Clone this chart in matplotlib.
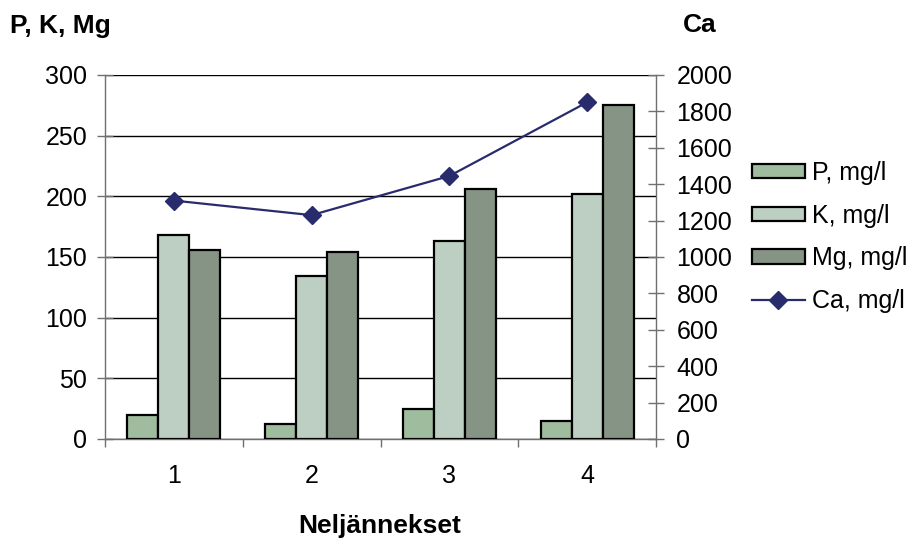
import numpy as np
import matplotlib
matplotlib.use("Agg")
import matplotlib.pyplot as plt

plt.rcParams["font.family"] = ["Liberation Sans", "DejaVu Sans"]

quarters = ["1", "2", "3", "4"]
p_vals = [20, 12, 25, 15]
k_vals = [168, 134, 163, 202]
mg_vals = [156, 154, 206, 275]
ca_vals = [1310, 1230, 1445, 1850]

fig = plt.figure(figsize=(9.18, 5.39), dpi=100)
ax1 = fig.add_axes([105 / 918, 100 / 539, 551 / 918, 364 / 539])

x = np.arange(len(quarters))
w = 0.225
bar_kw = dict(width=w, edgecolor="black", linewidth=1.6, zorder=3)
b1 = ax1.bar(x - w, p_vals, color="#A0BC9E", label="P, mg/l", **bar_kw)
b2 = ax1.bar(x, k_vals, color="#BDCFC3", label="K, mg/l", **bar_kw)
b3 = ax1.bar(x + w, mg_vals, color="#859484", label="Mg, mg/l", **bar_kw)

ax1.set_xlim(-0.5, 3.5)
ax1.set_ylim(0, 300)
ax1.set_yticks(range(0, 301, 50))
ax1.set_xticks(x)
ax1.set_xticklabels(quarters)
ax1.set_xticks(np.arange(-0.5, 3.6, 1), minor=True)
ax1.tick_params(axis="x", which="major", length=0, labelsize=18, pad=18)
ax1.tick_params(axis="x", which="minor", length=6, width=1, color="#707070")
ax1.tick_params(axis="y", direction="inout", length=11.5, width=1, color="#707070",
                labelsize=18, pad=7)
ax1.yaxis.grid(True, color="black", linewidth=1)
ax1.set_axisbelow(True)
for s in ["top", "right"]:
    ax1.spines[s].set_visible(False)
for s in ["left", "bottom"]:
    ax1.spines[s].set_color("#707070")
    ax1.spines[s].set_linewidth(1)

ax2 = ax1.twinx()
ln, = ax2.plot(x, ca_vals, color="#282C6C", linewidth=1.6, marker="D",
               markersize=9, label="Ca, mg/l", zorder=4)
ax2.set_ylim(0, 2000)
ax2.set_yticks(range(0, 2001, 200))
ax2.tick_params(axis="y", direction="inout", length=11.5, width=1, color="#707070",
                labelsize=18, pad=9)
for s in ["top", "left", "bottom"]:
    ax2.spines[s].set_visible(False)
ax2.spines["right"].set_color("#707070")
ax2.spines["right"].set_linewidth(1)

fig.text(10 / 918, 1 - 33 / 539, "P, K, Mg", fontsize=19, fontweight="bold", va="baseline")
fig.text(683 / 918, 1 - 32 / 539, "Ca", fontsize=19, fontweight="bold", va="baseline")
fig.text(380 / 918, 1 - 533 / 539, "Neljännekset", fontsize=19, fontweight="bold",
         ha="center", va="baseline")

fig.legend(handles=[b1, b2, b3, ln], loc="upper left",
           bbox_to_anchor=(742 / 918, 1 - 151 / 539), frameon=False,
           fontsize=18, handlelength=2.1, handleheight=0.52, handletextpad=0.3,
           labelspacing=0.75, borderaxespad=0)

fig.savefig("out.png", dpi=100)
